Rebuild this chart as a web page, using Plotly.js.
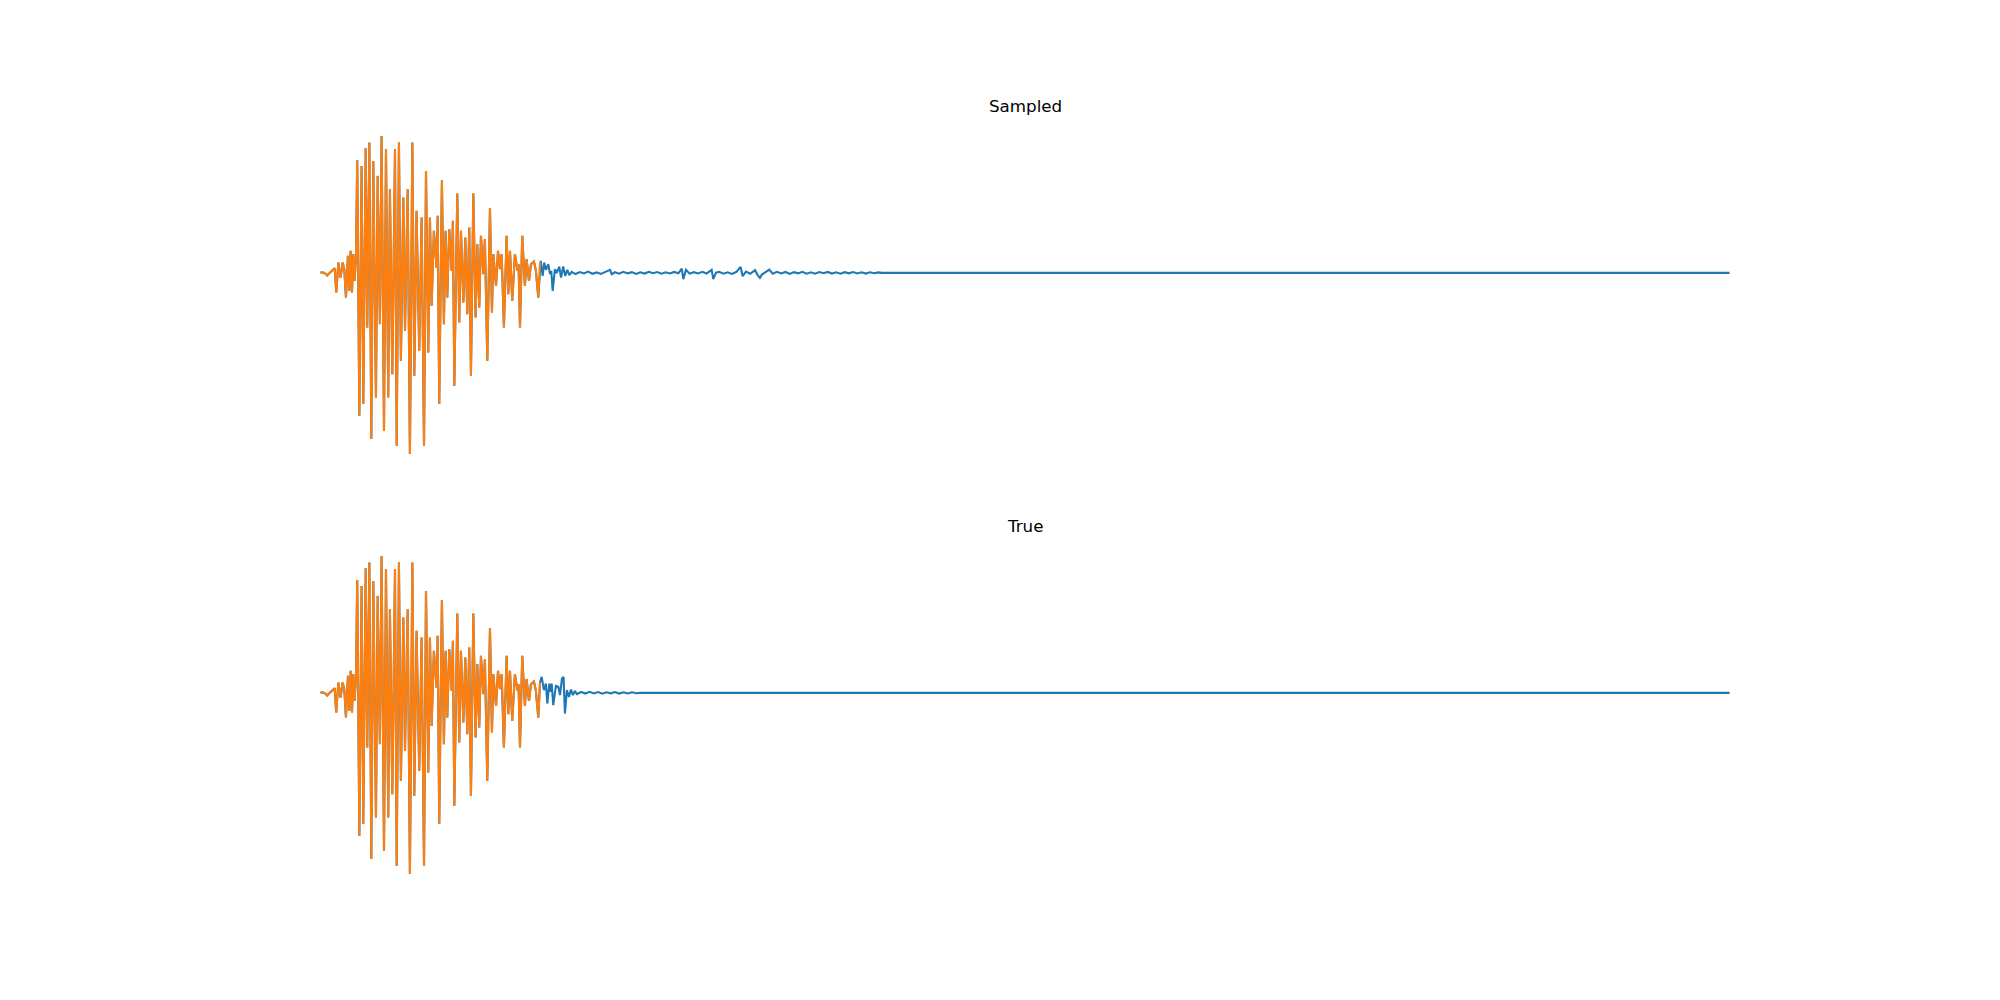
<!DOCTYPE html>
<html>
<head>
<meta charset="utf-8">
<script src="https://cdn.plot.ly/plotly-3.0.1.min.js"></script>
<style>html,body{margin:0;padding:0;background:#fff;}#chart{width:2000px;height:1000px;}</style>
</head>
<body>
<div id="chart"></div>
<script>
// Shared observed prefix (orange), time in seconds, amplitude in arbitrary units
const tPrefix = [0, 0.20, 0.34, 0.48, 0.63, 0.82, 1.01, 1.12, 1.27, 1.43, 1.57, 1.69, 1.81, 1.95, 2.05, 2.14, 2.24, 2.33, 2.42, 2.52,
  2.61, 2.76, 2.92, 3.04, 3.21, 3.32, 3.47, 3.61, 3.75, 3.94, 4.06, 4.22, 4.34, 4.51, 4.65, 4.81, 4.93, 5.10, 5.29, 5.41,
  5.57, 5.71, 5.88, 6.00, 6.19, 6.35, 6.52, 6.66, 6.82, 7.01, 7.18, 7.35, 7.49, 7.65, 7.77, 7.89, 8.05, 8.24, 8.32, 8.43,
  8.62, 8.76, 8.88, 9.00, 9.14, 9.31, 9.40, 9.50, 9.71, 9.85, 9.97, 10.14, 10.28, 10.42, 10.56, 10.68, 10.85, 11.01, 11.13, 11.27,
  11.39, 11.56, 11.67, 11.84, 12.03, 12.17, 12.27, 12.46, 12.60, 12.74, 12.86, 13.02, 13.21, 13.33, 13.45, 13.61, 13.80, 13.99, 14.06, 14.16,
  14.32, 14.51, 14.63, 14.80, 14.94, 15.15, 15.29, 15.46, 15.58];
const vPrefix = [0.3, 0.3, -0.7, -2.7, -0.3, 2.7, 4.7, -19.7, 10.3, -4.7, 10.3, 3.7, -24.7, 17.0, -18.0, 22.0, -19.7, 18.7, -8.0, 15.3,
  112.7, -143, 107, -131.3, 124.7, -54.7, 130.3, -166.3, 112, -124.7, 97, -51.3, 137, -158, 123.7, -124.7, 83.7, -101.3, 123.7, -173,
  130.3, -88, 75.3, -58, 83.7, -181.3, 130.3, -103, 62, -78, 55.3, -173, 102, -79.7, 55.3, -33, 42, 5.3, 57, -131.3,
  92.7, -51.3, 42, -24.7, 43.7, 2, 52, -113, 79.3, -49.7, 42, -29.7, 35.3, -41.3, 45.3, -103, 79.3, -44.7, 28.7, -34.7,
  37, -1.3, 33.7, -88, 64.7, -39.7, 18.7, -13, 22, 3.7, 18.7, -54.7, 37, -21.3, 22, -28, 18.7, 2, 8.7, -54.7,
  37, -13, 13.7, -8, 8.7, 11.3, 2, -24.7, 10.3];

// Sampled continuation (top panel, blue)
const tSampledTail = [15.63, 15.77, 15.88, 16.00, 16.17, 16.29, 16.38, 16.48, 16.64, 16.76, 16.95, 17.07, 17.23, 17.37, 17.52, 17.66, 17.83,
  18.1, 18.4, 18.7, 19.0, 19.3, 19.6, 19.9, 20.2, 20.55, 20.67, 20.9, 21.2, 21.5, 21.8, 22.1, 22.4, 22.7, 23.0, 23.3, 23.6, 23.9, 24.2,
  24.5, 24.8, 25.1, 25.4, 25.64, 25.75, 25.94, 26.2, 26.5, 26.8, 27.1, 27.4, 27.76, 27.88, 28.07, 28.3, 28.6, 28.9, 29.2, 29.5,
  29.82, 29.96, 30.2, 30.5, 30.84, 31.00, 31.19, 31.33, 31.55, 31.85, 32.1, 32.4, 32.7, 33.0, 33.3, 33.6, 33.9, 34.2, 34.5, 34.8,
  35.1, 35.4, 35.7, 36.0, 36.3, 36.6, 36.9, 37.2, 37.5, 37.8, 38.1, 38.4, 38.7, 39.0, 39.3, 39.6, 39.83, 100];
const vSampledTail = [12, -3, 10.3, 3, 8.7, -1.3, 2, -18, 3.7, -0.3, 6.3, -4.7, 6.3, -3, 3, -2.3, 1,
  -1.2, 0.8, -0.6, 1.3, -0.9, 0.4, -1.1, 0.9, 3, -1.3, 0.6, -0.8, 1.0, -0.5, 0.7, -1.0, 0.5, -0.7, 1.1, -0.4, 0.8, -0.9,
  0.6, -0.6, 0.9, -0.5, 4.3, -6.3, 3, -0.8, 0.7, -0.6, 1.0, -0.7, 3, -6.3, 0.3, 1.0, -0.8, 0.6, -1.0, 0.8,
  6, -3.3, 1.2, -0.9, 2.7, -1.7, -5, -1.7, 0.6, 3.3, -0.8, 1.1, -0.6, 0.9, -1.0, 0.7, -0.5, 1.0, -0.8, 0.6,
  -0.9, 0.8, -0.4, 0.9, -0.7, 0.5, -0.8, 0.7, -0.5, 0.8, -0.6, 0.5, -0.7, 0.6, -0.4, 0.5, 0, 0];

// True continuation (bottom panel, blue)
const tTrueTail = [15.70, 15.86, 16.00, 16.10, 16.24, 16.34, 16.41, 16.52, 16.71, 16.88, 17.00, 17.14, 17.25, 17.35, 17.49, 17.64, 17.78, 17.92, 18.06, 18.20,
  18.5, 18.8, 19.1, 19.4, 19.7, 20.0, 20.3, 20.6, 20.9, 21.2, 21.5, 21.8, 22.1, 22.4, 22.68, 100];
const vTrueTail = [16, 2.7, 9.3, -10.7, 9.3, 1, 9.3, -12.3, 7, 6, -2.3, 14.3, 16, -20.7, 2.7, -4, 3.3, -2.3, 2, -1.3,
  0.9, -0.7, 1.1, -0.6, 0.8, -0.9, 0.6, -0.5, 0.8, -0.7, 0.5, -0.6, 0.6, -0.4, 0, 0];

const panelTitles = ["Sampled", "True"];

const BLUE = "#1f77b4", ORANGE = "#ff7f0e";

const sampledT = tPrefix.concat(tSampledTail), sampledV = vPrefix.concat(vSampledTail);
const trueT = tPrefix.concat(tTrueTail), trueV = vPrefix.concat(vTrueTail);

function autoRange(arr) {
  const mn = Math.min(...arr), mx = Math.max(...arr), s = mx - mn;
  return [mn - 0.05 * s, mx + 0.05 * s];
}

const traces = [
  {x: sampledT, y: sampledV, xaxis: "x", yaxis: "y", mode: "lines", line: {color: BLUE, width: 2.08}, hoverinfo: "skip"},
  {x: tPrefix, y: vPrefix, xaxis: "x", yaxis: "y", mode: "lines", line: {color: ORANGE, width: 2.08}, hoverinfo: "skip"},
  {x: trueT, y: trueV, xaxis: "x2", yaxis: "y2", mode: "lines", line: {color: BLUE, width: 2.08}, hoverinfo: "skip"},
  {x: tPrefix, y: vPrefix, xaxis: "x2", yaxis: "y2", mode: "lines", line: {color: ORANGE, width: 2.08}, hoverinfo: "skip"}
];

const hidden = {showgrid: false, zeroline: false, showticklabels: false, showline: false, ticks: ""};

const layout = {
  width: 2000, height: 1000,
  margin: {l: 0, r: 0, t: 0, b: 0},
  paper_bgcolor: "#fff", plot_bgcolor: "#fff",
  showlegend: false,
  xaxis: Object.assign({domain: [0.125, 0.9], range: autoRange(sampledT), anchor: "y"}, hidden),
  yaxis: Object.assign({domain: [0.53, 0.88], range: autoRange(sampledV), anchor: "x"}, hidden),
  xaxis2: Object.assign({domain: [0.125, 0.9], range: autoRange(trueT), anchor: "y2"}, hidden),
  yaxis2: Object.assign({domain: [0.11, 0.46], range: autoRange(trueV), anchor: "x2"}, hidden),
  annotations: [
    {text: panelTitles[0], xref: "paper", yref: "paper", x: 0.5125, y: 0.88, xanchor: "center", yanchor: "bottom", yshift: 2.5, showarrow: false,
     font: {family: "DejaVu Sans", size: 16.7, color: "#000"}},
    {text: panelTitles[1], xref: "paper", yref: "paper", x: 0.5125, y: 0.46, xanchor: "center", yanchor: "bottom", yshift: 2.5, showarrow: false,
     font: {family: "DejaVu Sans", size: 16.7, color: "#000"}}
  ]
};

Plotly.newPlot("chart", traces, layout, {staticPlot: true, displayModeBar: false});
</script>
</body>
</html>
